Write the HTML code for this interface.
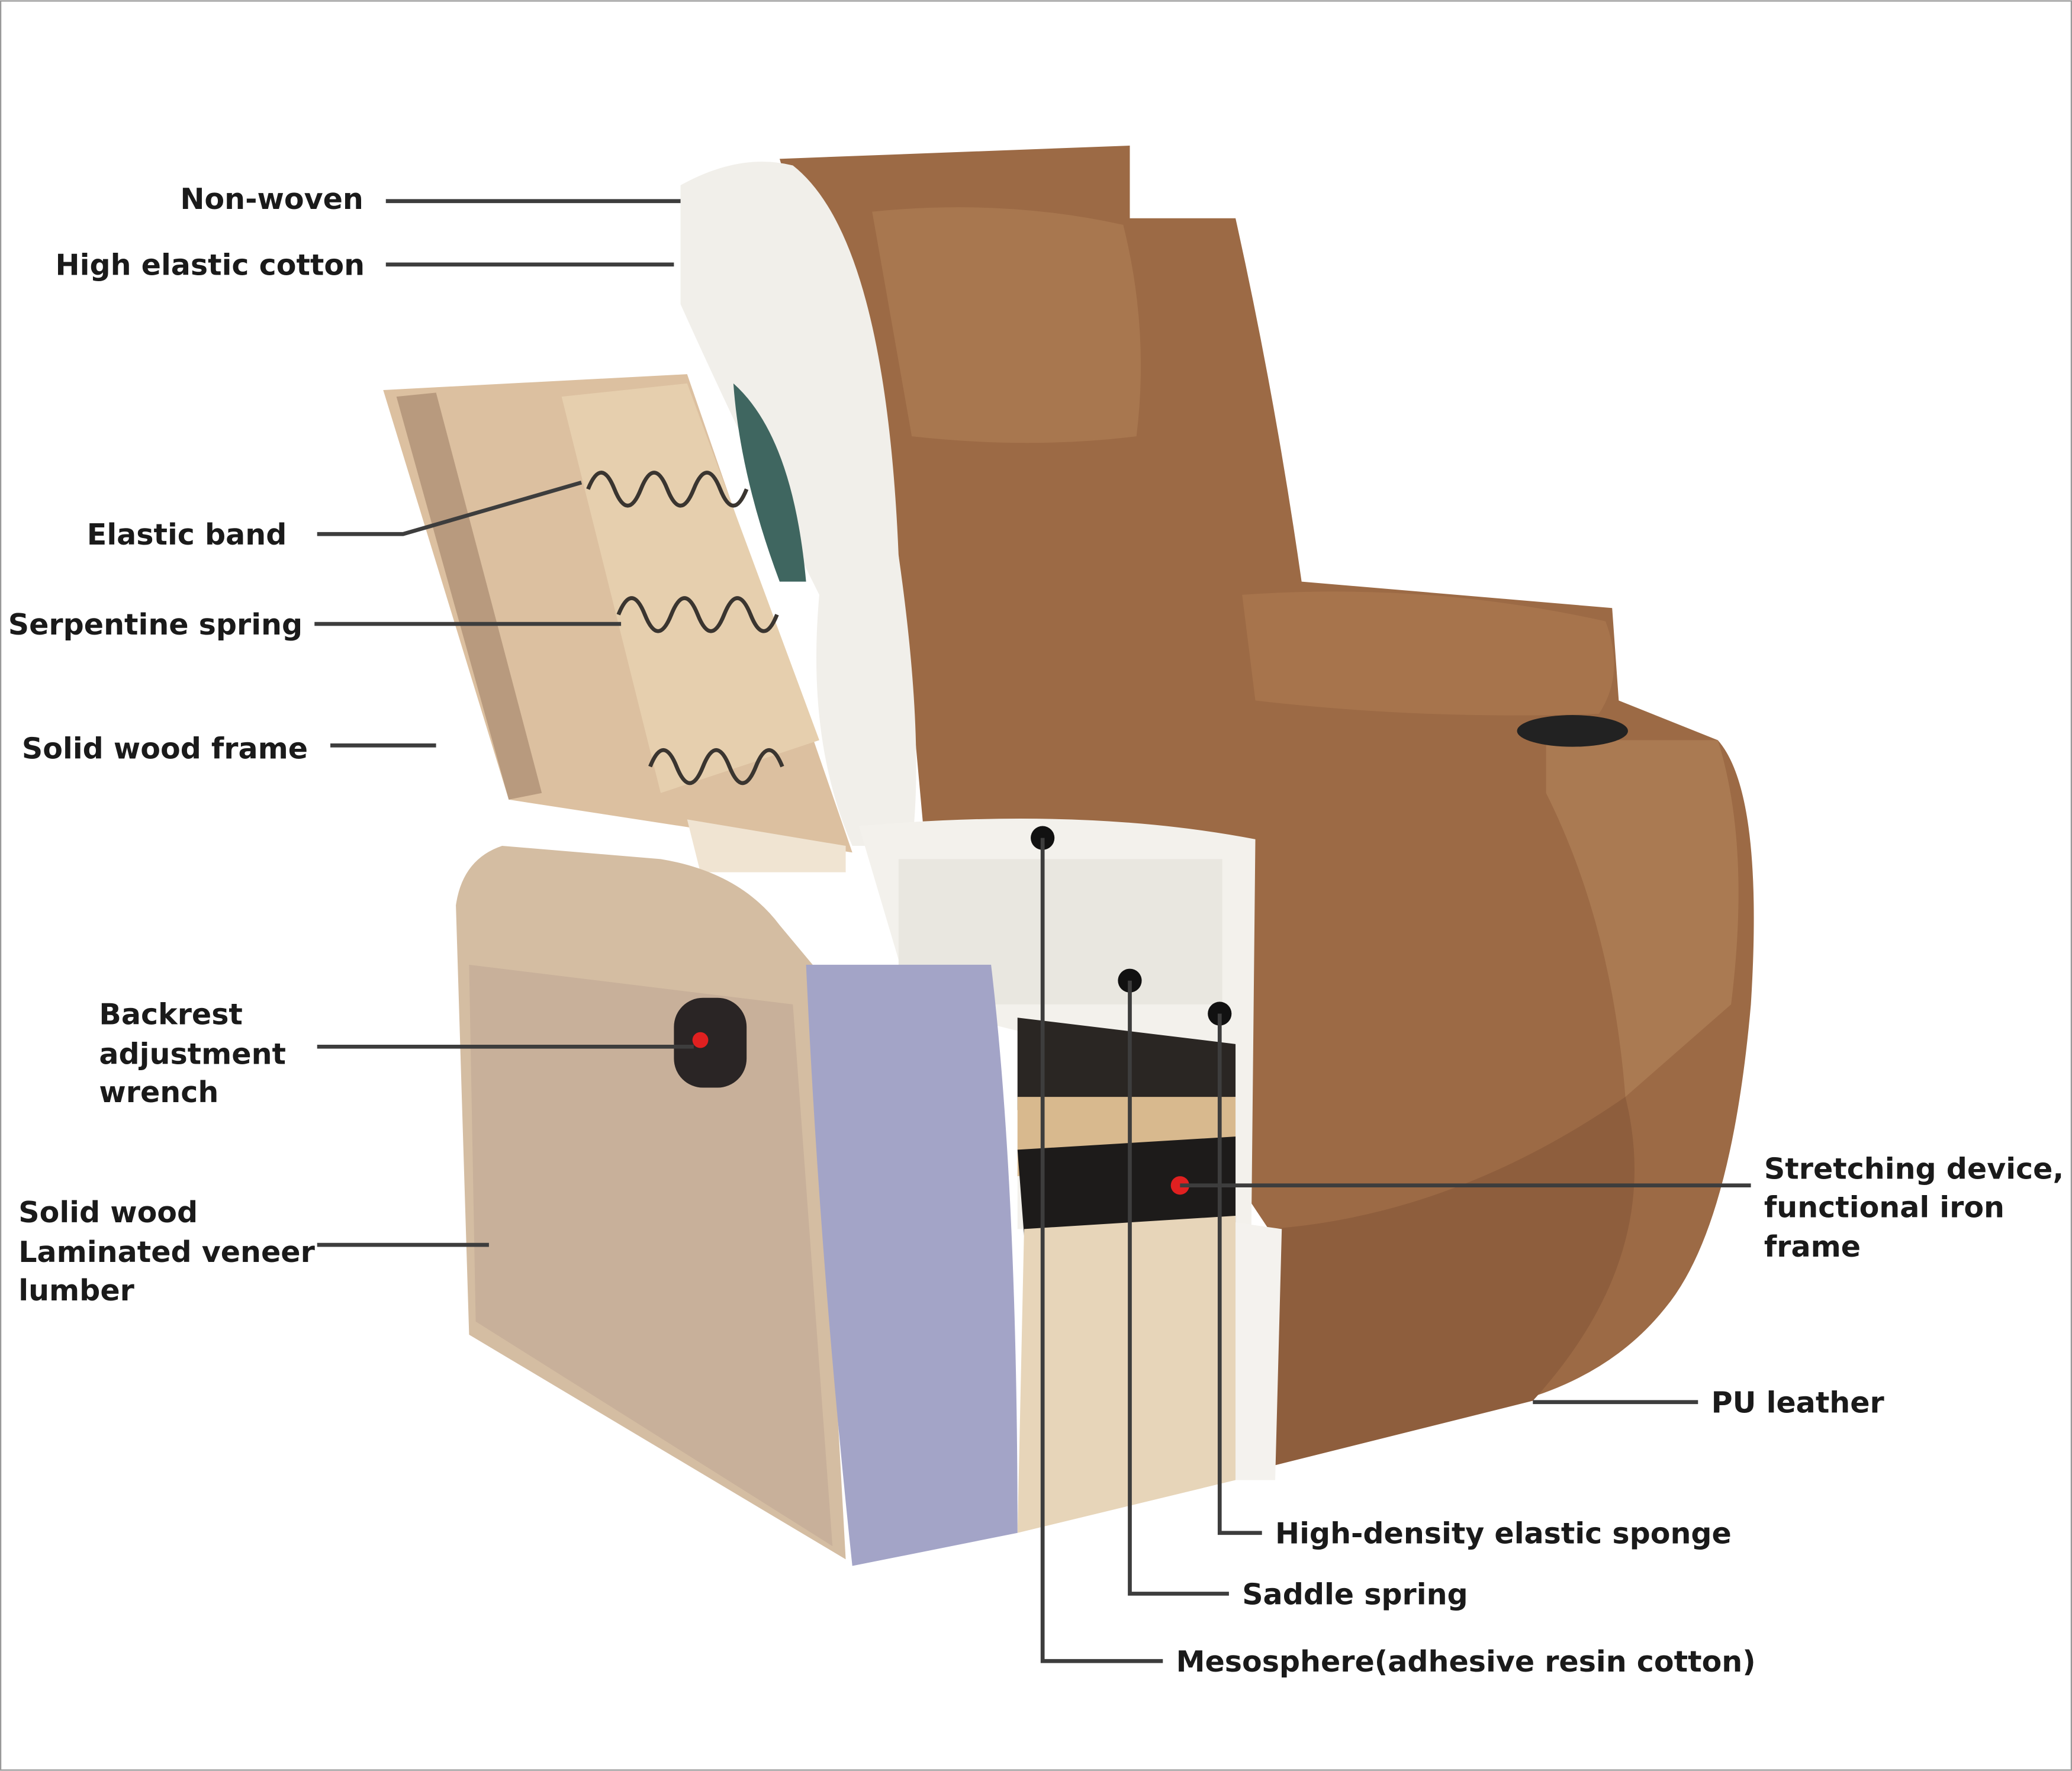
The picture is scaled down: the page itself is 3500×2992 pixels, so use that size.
<!DOCTYPE html>
<html><head><meta charset="utf-8"><style>
html,body{margin:0;padding:0;background:#fff;width:3500px;height:2992px;overflow:hidden}
svg{display:block}
text{font-family:"DejaVu Sans","Liberation Sans",sans-serif;font-weight:bold;font-size:22px;fill:#1a1a1a}
</style></head><body>
<svg width="3500" height="2992" viewBox="0 0 1568 1340" xmlns="http://www.w3.org/2000/svg">
<rect x="0.5" y="0.5" width="1567" height="1339" fill="#fff" stroke="#999" stroke-width="1"/>
<!-- leather body -->
<path d="M590,120 L855,110 L855,165 L935,165 Q965,300 985,440 L1220,460 L1225,530 L1300,560 Q1335,600 1325,760 Q1310,930 1260,990 Q1220,1040 1150,1060 L960,1110 L960,930 L940,900 L940,660 L700,640 L680,420 Z" fill="#9c6a45"/>
<path d="M660,160 Q760,150 850,170 Q870,250 860,330 Q780,340 690,330 Z" fill="#a8774f"/>
<path d="M940,450 Q1080,440 1215,470 Q1230,510 1210,540 Q1080,545 950,530 Z" fill="#a7744c"/>
<path d="M1170,560 L1300,560 Q1325,640 1310,760 L1230,830 Q1220,700 1170,600 Z" fill="#aa7a52"/>
<ellipse cx="1190" cy="553" rx="42" ry="12" fill="#222"/>
<path d="M960,930 Q1100,920 1230,830 Q1260,950 1160,1060 L960,1110 Z" fill="#8e5e3d"/>
<!-- cushion cutaway white -->
<path d="M515,140 Q560,115 600,125 Q670,180 680,420 Q700,560 690,640 L645,640 Q610,560 620,450 Q560,330 515,230 Z" fill="#f1efea"/>
<path d="M650,625 Q820,610 950,635 L945,1120 L935,1120 L935,930 L770,930 L770,780 L690,760 Z" fill="#f3f1ec"/>
<path d="M680,650 L925,650 L925,760 L680,760 Z" fill="#e9e7e0"/>
<path d="M770,770 L935,790 L935,830 L770,840 Z" fill="#2a2623"/>
<path d="M770,830 L935,830 L935,870 L770,890 Z" fill="#d8b98e"/>
<path d="M770,870 L935,860 L935,925 L775,935 Z" fill="#1d1b1a"/>
<path d="M775,930 L935,920 L935,1120 L770,1160 Z" fill="#e7d5b9"/>
<path d="M935,925 L970,930 L965,1120 L935,1120 Z" fill="#f4f2ee"/>
<path d="M555,290 Q600,330 610,440 L590,440 Q560,360 555,290 Z" fill="#3f6660"/>
<!-- back wooden frame -->
<path d="M290,295 L520,283 L645,645 L385,605 Z" fill="#dcc0a0"/>
<path d="M300,300 L330,297 L410,600 L385,605 Z" fill="#b89a7e"/>
<path d="M425,300 L520,290 L620,560 L500,600 Z" fill="#e6cfae"/>
<path d="M520,620 L640,640 L640,660 L530,660 Z" fill="#f0e4d2"/>
<g fill="none" stroke="#3a3530" stroke-width="3">
<path d="M445,370 q10,-25 20,0 t20,0 t20,0 t20,0 t20,0 t20,0"/>
<path d="M468,465 q10,-25 20,0 t20,0 t20,0 t20,0 t20,0 t20,0"/>
<path d="M492,580 q10,-25 20,0 t20,0 t20,0 t20,0 t20,0"/>
</g>
<!-- base box -->
<path d="M345,685 Q350,650 380,640 L500,650 Q560,660 590,700 L615,730 L640,1180 L355,1010 Z" fill="#d4bda2"/>
<path d="M355,730 L600,760 L630,1170 L360,1000 Z" fill="#c8b09a"/>
<path d="M610,730 L750,730 Q770,900 770,1160 L645,1185 Q620,950 610,730 Z" fill="#a3a4c7"/>
<rect x="510" y="755" width="55" height="68" rx="22" fill="#2a2525"/>
<circle cx="530" cy="787" r="6" fill="#e02020"/>
<circle cx="893" cy="897" r="7" fill="#e02020"/>
<!-- dots -->
<circle cx="789" cy="634" r="9" fill="#111"/>
<circle cx="855" cy="742" r="9" fill="#111"/>
<circle cx="923" cy="767" r="9" fill="#111"/>
<!-- leader lines -->
<g stroke="#3d3d3d" stroke-width="3" fill="none">
<path d="M292,152 L515,152"/>
<path d="M292,200 L510,200"/>
<path d="M240,404 L305,404 L440,365"/>
<path d="M238,472 L470,472"/>
<path d="M250,564 L330,564"/>
<path d="M240,792 L525,792"/>
<path d="M240,942 L370,942"/>
<path d="M893,897 L1325,897"/>
<path d="M1160,1061 L1285,1061"/>
<path d="M923,767 L923,1160 L955,1160"/>
<path d="M855,742 L855,1206 L930,1206"/>
<path d="M789,634 L789,1257 L880,1257"/>
</g>
<!-- labels -->
<text x="275" y="158" text-anchor="end">Non-woven</text>
<text x="276" y="208" text-anchor="end">High elastic cotton</text>
<text x="217" y="412" text-anchor="end">Elastic band</text>
<text x="229" y="480" text-anchor="end">Serpentine spring</text>
<text x="233" y="574" text-anchor="end">Solid wood frame</text>
<text x="75" y="775">Backrest</text>
<text x="75" y="805">adjustment</text>
<text x="75" y="834">wrench</text>
<text x="14" y="925">Solid wood</text>
<text x="14" y="955">Laminated veneer</text>
<text x="14" y="984">lumber</text>
<text x="1335" y="892">Stretching device,</text>
<text x="1335" y="921">functional iron</text>
<text x="1335" y="951">frame</text>
<text x="1295" y="1069">PU leather</text>
<text x="965" y="1168">High-density elastic sponge</text>
<text x="940" y="1214">Saddle spring</text>
<text x="890" y="1265">Mesosphere(adhesive resin cotton)</text>
</svg>
</body></html>
